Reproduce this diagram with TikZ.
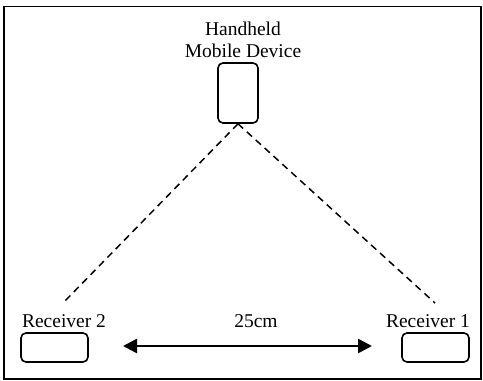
\documentclass[tikz,border=0pt]{standalone}
\usepackage{fontspec}
\setmainfont{Liberation Serif}
\usetikzlibrary{arrows.meta}
\begin{document}
\begin{tikzpicture}[x=1pt,y=-1pt,
  lbl/.style={anchor=base,inner sep=0pt,font=\fontsize{19.5}{22}\selectfont},
  dev/.style={draw,line width=1.6pt,rounded corners=5pt,inner sep=0pt},
  link/.style={line width=1.5pt,dash pattern=on 7pt off 5pt},
  dist/.style={line width=2.6pt,{Triangle[length=14pt,width=14pt]}-{Triangle[length=14pt,width=14pt]}}]
\useasboundingbox (0,0) rectangle (483,381);
\draw[line width=1.6pt] (4,6.5) rectangle (481,379);
\node[lbl] (t1) at (243,35) {Handheld};
\node[lbl] (t2) at (243,57) {Mobile Device};
\node[dev,minimum width=40pt,minimum height=60pt] (d) at (238,93) {};
\node[dev,minimum width=67pt,minimum height=29pt] (r2) at (54.5,347.5) {};
\node[dev,minimum width=67pt,minimum height=29pt] (r1) at (435.5,347.5) {};
\node[lbl] (l2) at (64,327) {Receiver 2};
\node[lbl] (l1) at (428,327) {Receiver 1};
\node[lbl] (dl) at (256,327) {25cm};
\coordinate (e2) at (63,303);
\coordinate (e1) at (435,303);
\coordinate (a2) at (123,346);
\coordinate (a1) at (372,346);
\draw[link] (d.south) -- (e2);
\draw[link] (d.south) -- (e1);
\draw[dist] (a2) -- (a1);
\end{tikzpicture}
\end{document}
